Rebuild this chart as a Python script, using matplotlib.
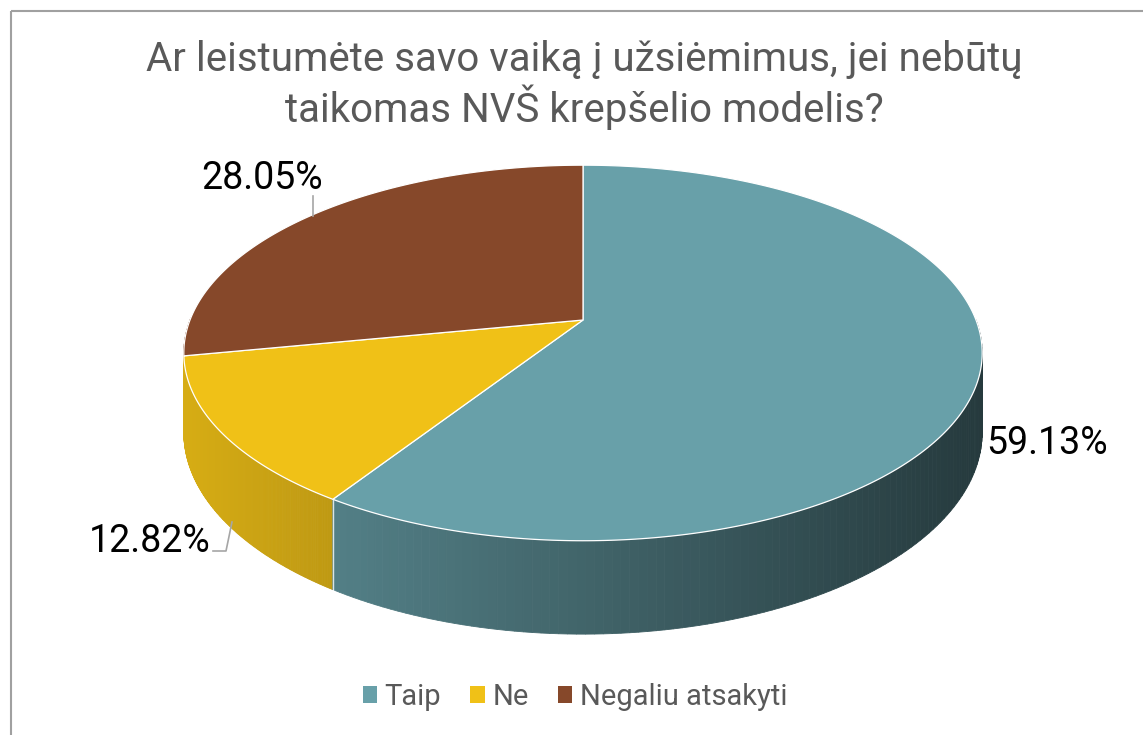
import numpy as np
import matplotlib.pyplot as plt
from matplotlib.patches import Polygon, Patch, Rectangle
from matplotlib.colors import to_rgb

# duomenys
categories = ['Taip', 'Ne', 'Negaliu atsakyti']
values = [59.13, 12.82, 28.05]
labels = ['59.13%', '12.82%', '28.05%']
colors = ['#68a0a9', '#f0c117', '#86482a']

title = 'Ar leistumėte savo vaiką į užsiėmimus, jei nebūtų\ntaikomas NVŠ krepšelio modelis?'

plt.rcParams['font.family'] = ['Roboto', 'DejaVu Sans']

# 3D pyrago geometrija (pikseliais)
cx, cy = 583, 320
a, b, k = 393, 182, 0.1755
depth = 77


def rim(theta_deg):
    t = np.radians(theta_deg)
    u, v = np.cos(t), np.sin(t)
    w = 1 + k * v
    return cx + a * u / w, cy - b * v / w, v, w


def shade(col, x):
    f = 1.017 - 0.000667 * x
    r, g, bb = to_rgb(col)
    return (r * f, g * f, bb * f)


fig = plt.figure(figsize=(11.43, 7.35), dpi=100)
ax = fig.add_axes([0, 0, 1, 1])
ax.set_xlim(0, 1143)
ax.set_ylim(735, 0)
ax.axis('off')

# rėmelis
ax.add_patch(Rectangle((11, 11), 1200, 800, fill=False, edgecolor='#a0a0a0', lw=1.5))

# kampai: pradžia 12 val., pagal laikrodžio rodyklę
total = sum(values)
starts, ends = [], []
ang = 90.0
for val in values:
    starts.append(ang)
    ang -= val / total * 360
    ends.append(ang)

# šoninės sienelės
quads = []
for i, col in enumerate(colors):
    th = np.linspace(starts[i], ends[i], 200)
    for t0, t1 in zip(th[:-1], th[1:]):
        x0, y0, v0, w0 = rim(t0)
        x1, y1, v1, w1 = rim(t1)
        if max(v0, v1) > 0.02:
            continue
        poly = [(x0, y0), (x1, y1), (x1, y1 + depth / w1), (x0, y0 + depth / w0)]
        c = shade(col, (x0 + x1) / 2)
        quads.append(((v0 + v1) / 2, poly, c))
quads.sort(key=lambda q: -q[0])
for _, poly, c in quads:
    ax.add_patch(Polygon(poly, closed=True, facecolor=c, edgecolor=c, lw=0.6))

# baltos linijos tarp sienelių
for t in starts:
    x0, y0, v0, w0 = rim(t)
    if v0 < -0.2:
        ax.plot([x0, x0], [y0, y0 + depth / w0], color='white', lw=1.0, alpha=0.8)

# viršus
for i, col in enumerate(colors):
    th = np.linspace(starts[i], ends[i], 300)
    pts = [(cx, cy)] + [rim(t)[:2] for t in th]
    ax.add_patch(Polygon(pts, closed=True, facecolor=col, edgecolor='white', lw=0.9))

# duomenų žymos
ax.text(986, 443, labels[0], fontsize=27, color='black', ha='left', va='center')
ax.text(211, 541, labels[1], fontsize=27, color='black', ha='right', va='center')
ax.text(262, 178, labels[2], fontsize=27, color='black', ha='center', va='center')
ax.plot([213, 226, 232], [551, 551, 522], color='#a6a6a6', lw=1.2)
ax.plot([313, 313], [196, 216], color='#a6a6a6', lw=1.2)

# pavadinimas
ax.text(584, 85, title, fontsize=29, color='#595959', ha='center', va='center',
        linespacing=1.15)

# legenda
handles = [Patch(facecolor=c, edgecolor='none') for c in colors]
ax.legend(handles, categories, loc='center', bbox_to_anchor=(575, 697),
          bbox_transform=ax.transData, ncol=3, frameon=False, fontsize=21,
          labelcolor='#595959', handlelength=0.5, handleheight=0.5,
          handletextpad=0.25, columnspacing=1.0)

plt.savefig('out.png', dpi=100)
